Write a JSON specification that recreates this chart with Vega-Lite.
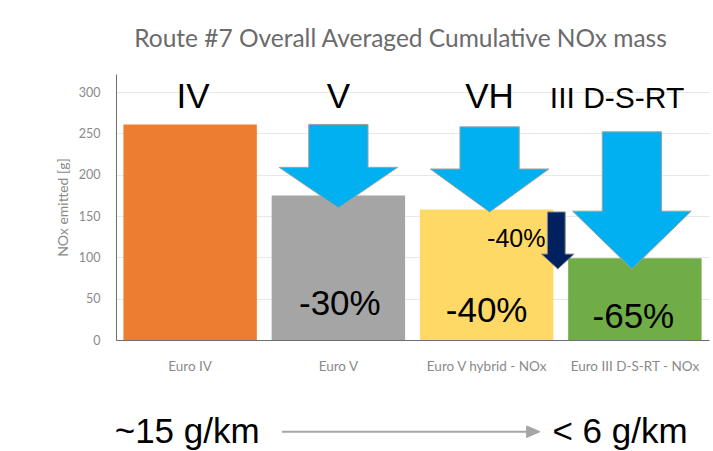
{
  "$schema": "https://vega.github.io/schema/vega-lite/v6.json",
  "width": 593,
  "height": 266,
  "autosize": {"type": "none"},
  "padding": {"left": 116, "top": 74, "right": 4, "bottom": 111},
  "background": "white",
  "title": {
    "text": "Route #7 Overall Averaged Cumulative NOx mass",
    "font": "Lato",
    "fontSize": 24.5,
    "fontWeight": "normal",
    "color": "#6b6b6b",
    "offset": 22,
    "dx": -12,
    "anchor": "middle"
  },
  "config": {"view": {"stroke": null}, "font": "Lato"},
  "datasets": {
    "bars": [
      {"vehicle": "Euro IV", "nox": 261},
      {"vehicle": "Euro V", "nox": 175},
      {"vehicle": "Euro V hybrid - NOx", "nox": 158},
      {"vehicle": "Euro III D-S-RT - NOx", "nox": 99}
    ],
    "arrows": [
      {"arrow": "V", "kind": "big", "i": 0, "at": 0.80, "value": 261},
      {"arrow": "V", "kind": "big", "i": 1, "at": 1.20, "value": 261},
      {"arrow": "V", "kind": "big", "i": 2, "at": 1.20, "value": 209},
      {"arrow": "V", "kind": "big", "i": 3, "at": 1.40, "value": 209},
      {"arrow": "V", "kind": "big", "i": 4, "at": 1.00, "value": 160},
      {"arrow": "V", "kind": "big", "i": 5, "at": 0.60, "value": 209},
      {"arrow": "V", "kind": "big", "i": 6, "at": 0.80, "value": 209},
      {"arrow": "V", "kind": "big", "i": 7, "at": 0.80, "value": 261},
      {"arrow": "VH", "kind": "big", "i": 0, "at": 1.82, "value": 258},
      {"arrow": "VH", "kind": "big", "i": 1, "at": 2.22, "value": 258},
      {"arrow": "VH", "kind": "big", "i": 2, "at": 2.22, "value": 207},
      {"arrow": "VH", "kind": "big", "i": 3, "at": 2.42, "value": 207},
      {"arrow": "VH", "kind": "big", "i": 4, "at": 2.02, "value": 155},
      {"arrow": "VH", "kind": "big", "i": 5, "at": 1.62, "value": 207},
      {"arrow": "VH", "kind": "big", "i": 6, "at": 1.82, "value": 207},
      {"arrow": "VH", "kind": "big", "i": 7, "at": 1.82, "value": 258},
      {"arrow": "DSRT", "kind": "big", "i": 0, "at": 2.78, "value": 252},
      {"arrow": "DSRT", "kind": "big", "i": 1, "at": 3.18, "value": 252},
      {"arrow": "DSRT", "kind": "big", "i": 2, "at": 3.18, "value": 156},
      {"arrow": "DSRT", "kind": "big", "i": 3, "at": 3.38, "value": 156},
      {"arrow": "DSRT", "kind": "big", "i": 4, "at": 2.98, "value": 86},
      {"arrow": "DSRT", "kind": "big", "i": 5, "at": 2.58, "value": 156},
      {"arrow": "DSRT", "kind": "big", "i": 6, "at": 2.78, "value": 156},
      {"arrow": "DSRT", "kind": "big", "i": 7, "at": 2.78, "value": 252},
      {"arrow": "H40", "kind": "small", "i": 0, "at": 2.41, "value": 155},
      {"arrow": "H40", "kind": "small", "i": 1, "at": 2.53, "value": 155},
      {"arrow": "H40", "kind": "small", "i": 2, "at": 2.53, "value": 104},
      {"arrow": "H40", "kind": "small", "i": 3, "at": 2.59, "value": 104},
      {"arrow": "H40", "kind": "small", "i": 4, "at": 2.48, "value": 86},
      {"arrow": "H40", "kind": "small", "i": 5, "at": 2.37, "value": 104},
      {"arrow": "H40", "kind": "small", "i": 6, "at": 2.41, "value": 104},
      {"arrow": "H40", "kind": "small", "i": 7, "at": 2.41, "value": 155},
      {"arrow": "km", "kind": "gray", "i": 0, "at": 2.27, "value": -104},
      {"arrow": "km", "kind": "gray", "i": 1, "at": 2.36, "value": -111},
      {"arrow": "km", "kind": "gray", "i": 2, "at": 2.27, "value": -118},
      {"arrow": "km", "kind": "gray", "i": 3, "at": 2.27, "value": -104}
    ],
    "shafts": [
      {"from": 0.62, "to": 2.28, "value": -111}
    ],
    "labels": [
      {"label": "IV", "kind": "big", "at": 0.02, "value": 281},
      {"label": "V", "kind": "big", "at": 1.0, "value": 281},
      {"label": "VH", "kind": "big", "at": 2.02, "value": 281},
      {"label": "III D-S-RT", "kind": "mid", "at": 2.88, "value": 281},
      {"label": "-30%", "kind": "pct", "at": 1.01, "value": 30},
      {"label": "-40%", "kind": "pct", "at": 2.0, "value": 22},
      {"label": "-65%", "kind": "pct", "at": 2.99, "value": 14},
      {"label": "-40%", "kind": "small", "at": 2.2, "value": 112},
      {"label": "~15 g/km", "kind": "bottom", "at": -0.02, "value": -125},
      {"label": "< 6 g/km", "kind": "bottom", "at": 2.9, "value": -125}
    ]
  },
  "resolve": {"scale": {"x": "independent"}, "axis": {"x": "independent", "y": "independent"}},
  "layer": [
    {
      "data": {"name": "bars"},
      "mark": {"type": "bar"},
      "encoding": {
        "x": {
          "field": "vehicle",
          "type": "nominal",
          "sort": null,
          "scale": {"paddingInner": 0.1, "paddingOuter": 0.05},
          "axis": {
            "title": null,
            "labelAngle": 0,
            "labelPadding": 19,
            "ticks": false,
            "domainColor": "#6e6e6e",
            "domainWidth": 1,
            "labelColor": "#8a8a8a",
            "labelFont": "Lato",
            "labelFontSize": 13.5,
            "labelOverlap": false,
            "labelLimit": 0
          }
        },
        "y": {
          "field": "nox",
          "type": "quantitative",
          "scale": {"domain": [0, 322], "nice": false, "zero": true},
          "axis": {
            "title": "NOx emitted [g]",
            "titleFont": "Lato",
            "titleFontSize": 14,
            "titleFontWeight": "normal",
            "titleColor": "#8a8a8a",
            "titlePadding": 8,
            "values": [0, 50, 100, 150, 200, 250, 300],
            "ticks": false,
            "labelPadding": 16,
            "labelColor": "#8a8a8a",
            "labelFont": "Lato",
            "labelFontSize": 12.5,
            "domainColor": "#6e6e6e",
            "grid": true,
            "gridColor": "#e8e8e8"
          }
        },
        "color": {
          "field": "vehicle",
          "type": "nominal",
          "sort": null,
          "scale": {
            "domain": ["Euro IV", "Euro V", "Euro V hybrid - NOx", "Euro III D-S-RT - NOx"],
            "range": ["#ED7D31", "#A5A5A5", "#FFD966", "#70AD47"]
          },
          "legend": null
        }
      }
    },
    {
      "layer": [
        {
          "data": {"name": "arrows"},
          "transform": [{"filter": "datum.kind === 'big'"}],
          "mark": {"type": "line", "fill": "#00B0F0", "stroke": "#a0a0a0", "strokeWidth": 1, "strokeJoin": "miter"},
          "encoding": {
            "x": {"field": "at", "type": "quantitative", "scale": {"domain": [-0.5, 3.5], "nice": false, "zero": false}, "axis": null},
            "y": {"field": "value", "type": "quantitative", "axis": null},
            "detail": {"field": "arrow"},
            "order": {"field": "i", "type": "quantitative"}
          }
        },
        {
          "data": {"name": "arrows"},
          "transform": [{"filter": "datum.kind === 'small'"}],
          "mark": {"type": "line", "fill": "#002060", "stroke": "#8a8a8a", "strokeWidth": 1, "strokeJoin": "miter"},
          "encoding": {
            "x": {"field": "at", "type": "quantitative", "scale": {"domain": [-0.5, 3.5], "nice": false, "zero": false}, "axis": null},
            "y": {"field": "value", "type": "quantitative", "axis": null},
            "detail": {"field": "arrow"},
            "order": {"field": "i", "type": "quantitative"}
          }
        },
        {
          "data": {"name": "shafts"},
          "mark": {"type": "rule", "color": "#a6a6a6", "strokeWidth": 2},
          "encoding": {
            "x": {"field": "from", "type": "quantitative", "scale": {"domain": [-0.5, 3.5], "nice": false, "zero": false}, "axis": null},
            "x2": {"field": "to"},
            "y": {"field": "value", "type": "quantitative", "axis": null}
          }
        },
        {
          "data": {"name": "arrows"},
          "transform": [{"filter": "datum.kind === 'gray'"}],
          "mark": {"type": "line", "fill": "#a6a6a6", "stroke": "#a6a6a6", "strokeWidth": 1},
          "encoding": {
            "x": {"field": "at", "type": "quantitative", "scale": {"domain": [-0.5, 3.5], "nice": false, "zero": false}, "axis": null},
            "y": {"field": "value", "type": "quantitative", "axis": null},
            "detail": {"field": "arrow"},
            "order": {"field": "i", "type": "quantitative"}
          }
        },
        {
          "data": {"name": "labels"},
          "transform": [{"filter": "datum.kind === 'big'"}],
          "mark": {"type": "text", "font": "Liberation Sans", "fontSize": 35, "color": "#000000", "align": "center", "baseline": "alphabetic"},
          "encoding": {
            "x": {"field": "at", "type": "quantitative", "scale": {"domain": [-0.5, 3.5], "nice": false, "zero": false}, "axis": null},
            "y": {"field": "value", "type": "quantitative", "axis": null},
            "text": {"field": "label"}
          }
        },
        {
          "data": {"name": "labels"},
          "transform": [{"filter": "datum.kind === 'mid'"}],
          "mark": {"type": "text", "font": "Liberation Sans", "fontSize": 30, "color": "#000000", "align": "center", "baseline": "alphabetic"},
          "encoding": {
            "x": {"field": "at", "type": "quantitative", "scale": {"domain": [-0.5, 3.5], "nice": false, "zero": false}, "axis": null},
            "y": {"field": "value", "type": "quantitative", "axis": null},
            "text": {"field": "label"}
          }
        },
        {
          "data": {"name": "labels"},
          "transform": [{"filter": "datum.kind === 'pct'"}],
          "mark": {"type": "text", "font": "Liberation Sans", "fontSize": 35, "color": "#000000", "align": "center", "baseline": "alphabetic"},
          "encoding": {
            "x": {"field": "at", "type": "quantitative", "scale": {"domain": [-0.5, 3.5], "nice": false, "zero": false}, "axis": null},
            "y": {"field": "value", "type": "quantitative", "axis": null},
            "text": {"field": "label"}
          }
        },
        {
          "data": {"name": "labels"},
          "transform": [{"filter": "datum.kind === 'small'"}],
          "mark": {"type": "text", "font": "Liberation Sans", "fontSize": 25, "color": "#000000", "align": "center", "baseline": "alphabetic"},
          "encoding": {
            "x": {"field": "at", "type": "quantitative", "scale": {"domain": [-0.5, 3.5], "nice": false, "zero": false}, "axis": null},
            "y": {"field": "value", "type": "quantitative", "axis": null},
            "text": {"field": "label"}
          }
        },
        {
          "data": {"name": "labels"},
          "transform": [{"filter": "datum.kind === 'bottom'"}],
          "mark": {"type": "text", "font": "Liberation Sans", "fontSize": 35, "color": "#000000", "align": "center", "baseline": "alphabetic"},
          "encoding": {
            "x": {"field": "at", "type": "quantitative", "scale": {"domain": [-0.5, 3.5], "nice": false, "zero": false}, "axis": null},
            "y": {"field": "value", "type": "quantitative", "axis": null},
            "text": {"field": "label"}
          }
        }
      ]
    }
  ]
}
